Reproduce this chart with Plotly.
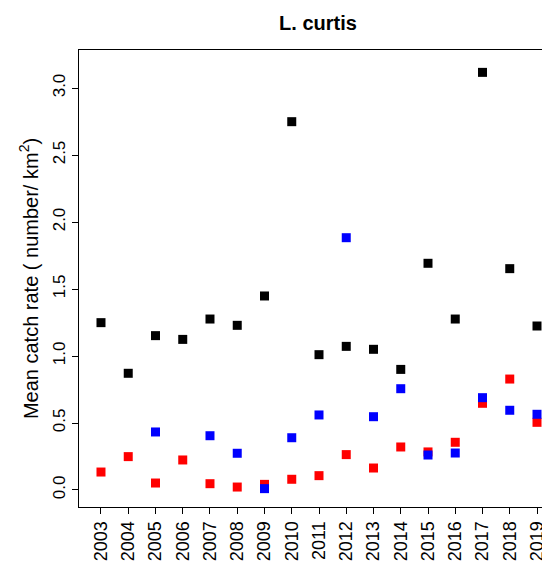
import plotly.graph_objects as go

years = list(range(2003, 2020))
black_vals = [1.249, 0.871, 1.152, 1.124, 1.276, 1.229, 1.448, 2.749, 1.010,
              1.072, 1.050, 0.900, 1.692, 1.276, 3.117, 1.652, 1.224]
blue_vals = [None, None, 0.433, None, 0.405, 0.274, 0.010, 0.390, 0.560,
             1.883, 0.547, 0.756, 0.261, 0.276, 0.689, 0.595, 0.565]
red_vals = [0.134, 0.249, 0.052, 0.224, 0.047, 0.022, 0.042, 0.080, 0.107,
            0.264, 0.164, 0.321, 0.284, 0.356, 0.647, 0.828, 0.505]
y_ticks = [0.0, 0.5, 1.0, 1.5, 2.0, 2.5, 3.0]
y_tick_labels = ["0.0", "0.5", "1.0", "1.5", "2.0", "2.5", "3.0"]
x_tick_labels = [str(y) for y in years]

FONT = "Liberation Sans, Arial, sans-serif"
# the page body has an 8px default margin, so the figure is sized/placed to compensate
OFF = 8

fig = go.Figure()
for vals, col, name in [(black_vals, "#000000", "black"),
                        (red_vals, "#FF0000", "red"),
                        (blue_vals, "#0000FF", "blue")]:
    fig.add_trace(go.Scatter(x=years, y=vals, mode="markers", name=name,
                             marker=dict(symbol="square", size=9, color=col,
                                         line=dict(width=0)),
                             showlegend=False))

W, H = 550 - OFF, 569 - OFF
fig.update_layout(
    width=W, height=H,
    margin=dict(l=79 - OFF, r=0, t=50 - OFF, b=62, autoexpand=False),
    paper_bgcolor="white", plot_bgcolor="white",
    font=dict(family=FONT, size=18, color="black"),
    title=dict(text="<b>L. curtis</b>", x=(318 - OFF) / W, xref="container", xanchor="center",
               y=1 - (23 - OFF) / H, yref="container", yanchor="middle",
               font=dict(family=FONT, size=20, color="black")),
)
fig.update_xaxes(
    range=[2002.193, 2019.477], tickmode="array", tickvals=years, ticktext=x_tick_labels,
    tickangle=-90, ticks="outside", ticklen=6, tickwidth=1, tickcolor="black",
    showline=True, linecolor="black", linewidth=1, mirror=True, automargin=False,
    showgrid=False, zeroline=False, tickfont=dict(size=18),
)
fig.update_yaxes(
    range=[-0.127, 3.284], tickmode="array", tickvals=y_ticks, ticktext=y_tick_labels,
    tickangle=-90, ticks="outside", ticklen=6, tickwidth=1, tickcolor="black",
    showline=True, linecolor="black", linewidth=1, mirror=False, automargin=False,
    showgrid=False, zeroline=False, tickfont=dict(size=17),
    title=dict(text="Mean catch rate ( number/ km<sup>2</sup>)", standoff=6,
               font=dict(size=20)),
)

fig.write_html("out.html")
